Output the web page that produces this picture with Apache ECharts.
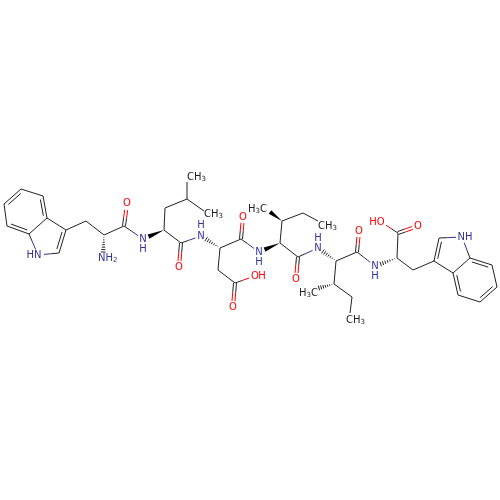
<!DOCTYPE html>
<html><head><meta charset="utf-8">
<style>html,body{margin:0;padding:0;background:#fff}#c{width:500px;height:500px}</style>
<script src="https://cdn.jsdelivr.net/npm/echarts@6/dist/echarts.min.js"></script>
</head><body><div id="c"></div>
<script>
var atomX=[4,21,43,47,29,7,38,59,66,86,104,103,124,127,143,164,165,187,187,204,181,179,201,220,218,235,233,255,241,243,259,280,282,270,303,318,298,296,318,336,334,319,352,350,357,359,375,397,398,418,381,413,434,439,462,470,453,458,480,497,492];
var atomY=[204,189,196,218,234,226,255,253,230,221,235,258,226,204,239,230,208,199,182,211,243,267,236,248,270,283,307,276,239,217,252,243,221,212,213,221,257,279,248,261,284,288,297,313,252,231,266,258,233,226,222,270,261,238,237,258,273,295,302,287,265];
var atomEl=['C','C','C','C','C','C','N','C','C','C','C','N','C','O','N','C','C','C','C','C','C','O','N','C','C','C','O','O','C','O','N','C','C','C','C','C','C','O','N','C','C','C','C','C','C','O','N','C','C','O','O','C','C','C','N','C','C','C','C','C','C'];
var bondFrom=[0,1,2,3,4,5,4,6,7,8,8,9,10,10,12,12,15,15,16,17,17,15,20,20,23,23,24,25,25,23,28,28,31,31,32,32,34,31,36,36,39,39,40,40,42,39,44,44,47,47,48,48,47,51,52,53,54,55,56,56,57,58,59,60];
var bondTo=[1,2,3,4,5,0,6,7,8,3,9,10,11,12,13,14,14,16,17,18,19,20,21,22,22,24,25,26,27,28,29,30,30,32,33,34,35,36,37,38,38,40,41,42,43,44,45,46,46,48,49,50,51,52,53,54,55,56,52,57,58,59,60,55];
var bondKind=['I','S','I','S','I','S','S','S','I','S','S','S','H','S','D','S','W','S','S','S','S','S','D','S','H','S','S','D','S','S','D','S','W','S','W','S','S','S','D','S','H','S','H','S','S','S','D','S','H','S','D','S','S','S','I','S','S','S','S','I','S','I','S','I'];
var bondRef=[3,0,0,0,2,0,0,0,6,0,0,0,0,0,0,0,0,0,0,0,0,0,0,0,0,0,0,0,0,0,0,0,0,0,0,0,0,0,0,0,0,0,0,0,0,0,0,0,0,0,0,0,0,0,54,0,0,0,0,59,0,56,0,57];
var labelText=['HN','NH_2','O','N','H','CH_3','CH_3','O','N','H','O','O','H','O','N','H','H_3C','CH_3','O','N','H','H_3C','CH_3','O','N','H','O','HO','NH'];
var labelX=[34,98,127,143,143,187,204,179,201,201,233,255,262,243,259,259,267,318,296,318,318,318,346,359,375,375,418,377,465];
var labelY=[255,258,203,239,249,177,214,267,236,225,307,276,276,217,252,262,209,226,279,248,238,293,320,231,266,276,226,222,237];
var labelColor=['N','N','O','N','N','C','C','O','N','N','O','O','O','O','N','N','C','C','O','N','N','C','C','O','N','N','O','O','N'];
var labelAlign=['center','left','center','center','center','left','left','center','center','center','center','center','center','center','center','center','right','left','center','center','center','right','left','center','center','center','center','center','center'];
var palette={C:'#222222',N:'#333399',O:'#ff0000'};
var chart=echarts.init(document.getElementById('c'),null,{renderer:'canvas'});
function seg(a,b,c){return {type:'line',shape:{x1:a[0],y1:a[1],x2:b[0],y2:b[1]},style:{stroke:c,lineWidth:1}};}
function twoTone(a,b,ea,eb,out){
  var m=[(a[0]+b[0])/2,(a[1]+b[1])/2];
  if(ea===eb){out.push(seg(a,b,palette[ea]));return;}
  out.push(seg(a,m,palette[ea]));out.push(seg(m,b,palette[eb]));
}
function trim(a,b,ea,eb){
  var dx=b[0]-a[0],dy=b[1]-a[1],l=Math.sqrt(dx*dx+dy*dy),ga=ea==='C'?0:6,gb=eb==='C'?0:6;
  return [[a[0]+dx*ga/l,a[1]+dy*ga/l],[b[0]-dx*gb/l,b[1]-dy*gb/l]];
}
function renderBond(params,api){
  var i=api.value(0),j=api.value(1),k=bondKind[params.dataIndex],r=bondRef[params.dataIndex];
  var a0=api.coord([atomX[i],atomY[i]]),b0=api.coord([atomX[j],atomY[j]]);
  var ea=atomEl[i],eb=atomEl[j],t=trim(a0,b0,ea,eb),a=t[0],b=t[1],out=[];
  var dx=b[0]-a[0],dy=b[1]-a[1],l=Math.sqrt(dx*dx+dy*dy),nx=-dy/l,ny=dx/l;
  if(k==='S'){twoTone(a,b,ea,eb,out);}
  else if(k==='D'){
    twoTone([a[0]+nx*1.5,a[1]+ny*1.5],[b[0]+nx*1.5,b[1]+ny*1.5],ea,eb,out);
    twoTone([a[0]-nx*1.5,a[1]-ny*1.5],[b[0]-nx*1.5,b[1]-ny*1.5],ea,eb,out);
  }else if(k==='I'){
    twoTone(a,b,ea,eb,out);
    var rc=api.coord([atomX[r],atomY[r]]);
    var s=((rc[0]-a[0])*nx+(rc[1]-a[1])*ny)>0?1:-1,o=3.2,f=0.13;
    twoTone([a[0]+dx*f+nx*o*s,a[1]+dy*f+ny*o*s],[b[0]-dx*f+nx*o*s,b[1]-dy*f+ny*o*s],ea,ea,out);
  }else if(k==='W'){
    out.push({type:'polygon',shape:{points:[a,[b[0]+nx*2.2,b[1]+ny*2.2],[b[0]-nx*2.2,b[1]-ny*2.2]]},style:{fill:'#000'}});
  }else if(k==='H'){
    var n=7;
    for(var q=1;q<=n;q++){var u=q/n,w=u*2.4,px=a[0]+dx*u,py=a[1]+dy*u;
      out.push(seg([px+nx*w,py+ny*w],[px-nx*w,py-ny*w],'#222'));}
  }
  return {type:'group',children:out};
}
function renderLabel(params,api){
  var idx=params.dataIndex,p=api.coord([api.value(0),api.value(1)]),s=labelText[idx];
  var parts=s.split('_'),c=palette[labelColor[idx]];
  var str;
  if(parts.length===1){str='{m|'+s+'}';}
  else{var tail=parts[1];
    if(tail.length===1){str='{m|'+parts[0]+'}{s|'+tail+'}';}
    else{str='{m|'+parts[0]+'}{s|'+tail[0]+'}{m|'+tail.slice(1)+'}';}
  }
  return {type:'text',x:p[0],y:p[1],style:{text:str,align:labelAlign[idx],verticalAlign:'middle',
    rich:{m:{fontFamily:'DejaVu Sans',fontSize:10,fill:c,lineHeight:12,verticalAlign:'middle'},
          s:{fontFamily:'DejaVu Sans',fontSize:7,fill:c,lineHeight:12,verticalAlign:'bottom',padding:[5,0,0,0]}}}};
}
chart.setOption({
  animation:false,backgroundColor:'#fff',
  grid:{left:0,right:0,top:0,bottom:0},
  xAxis:{type:'value',min:0,max:500,show:false},
  yAxis:{type:'value',min:0,max:500,inverse:true,show:false},
  series:[
    {type:'custom',coordinateSystem:'cartesian2d',renderItem:renderBond,silent:true,clip:false,
     encode:{x:-1,y:-1},data:bondFrom.map(function(f,i){return [f,bondTo[i]];})},
    {type:'custom',coordinateSystem:'cartesian2d',renderItem:renderLabel,silent:true,clip:false,
     encode:{x:0,y:1},data:labelX.map(function(x,i){return [x,labelY[i]];})}
  ]
});
</script></body></html>
